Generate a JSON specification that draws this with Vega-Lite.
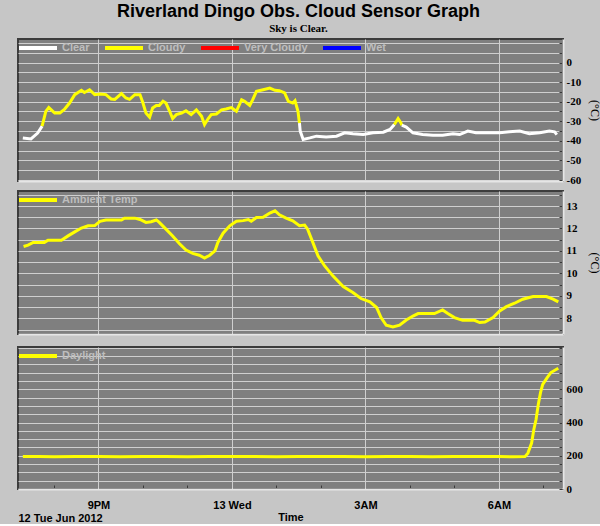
{
  "$schema": "https://vega.github.io/schema/vega-lite/v6.json",
  "background": "#c6c6c6",
  "padding": {"left": 15, "top": 2, "right": 0, "bottom": 0},
  "title": {
    "text": "Riverland Dingo Obs. Cloud Sensor Graph",
    "subtitle": "Sky is Clear.",
    "anchor": "middle",
    "dx": -10,
    "font": "Liberation Sans",
    "fontSize": 18,
    "fontWeight": "bold",
    "color": "#000000",
    "subtitleFont": "Liberation Serif",
    "subtitleFontSize": 11,
    "subtitleFontWeight": "bold",
    "subtitleColor": "#000000",
    "subtitlePadding": 2,
    "offset": 2
  },
  "config": {
    "view": {"fill": "#7f7f7f", "stroke": "#3c3c3c", "strokeWidth": 2},
    "axis": {
      "labelFont": "Liberation Serif",
      "labelFontWeight": "bold",
      "labelFontSize": 11,
      "labelColor": "#000000",
      "titleFont": "Liberation Serif",
      "titleFontWeight": "normal",
      "titleFontSize": 12,
      "titleColor": "#000000",
      "tickColor": "#3a3a3a",
      "domainColor": "#e6e6e6",
      "domainWidth": 2,
      "gridColor": "#cfcfcf",
      "gridWidth": 1
    },
    "legend": {
      "orient": "none",
      "legendX": 1,
      "legendY": 2,
      "direction": "horizontal",
      "title": null,
      "symbolType": "M-1.4,0H6.2",
      "symbolSize": 100,
      "symbolStrokeWidth": 4,
      "labelFont": "Liberation Sans",
      "labelFontWeight": "bold",
      "labelFontSize": 11,
      "labelColor": "#bdbdbd",
      "labelOffset": 29,
      "columnPadding": 7,
      "padding": 0
    }
  },
  "datasets": {
    "cloud": [
      {"t": "2012-06-12T19:18", "sky": -38.5, "cond": "Clear", "seg": 1},
      {"t": "2012-06-12T19:29", "sky": -39, "cond": "Clear", "seg": 1},
      {"t": "2012-06-12T19:38", "sky": -36, "cond": "Clear", "seg": 1},
      {"t": "2012-06-12T19:44", "sky": -32.5, "cond": "Clear", "seg": 1},
      {"t": "2012-06-12T19:44", "sky": -32.5, "cond": "Cloudy", "seg": 2},
      {"t": "2012-06-12T19:49", "sky": -25, "cond": "Cloudy", "seg": 2},
      {"t": "2012-06-12T19:53", "sky": -23, "cond": "Cloudy", "seg": 2},
      {"t": "2012-06-12T20:01", "sky": -25.8, "cond": "Cloudy", "seg": 2},
      {"t": "2012-06-12T20:08", "sky": -25.8, "cond": "Cloudy", "seg": 2},
      {"t": "2012-06-12T20:14", "sky": -24, "cond": "Cloudy", "seg": 2},
      {"t": "2012-06-12T20:21", "sky": -20.7, "cond": "Cloudy", "seg": 2},
      {"t": "2012-06-12T20:28", "sky": -16.4, "cond": "Cloudy", "seg": 2},
      {"t": "2012-06-12T20:37", "sky": -14.2, "cond": "Cloudy", "seg": 2},
      {"t": "2012-06-12T20:41", "sky": -15.3, "cond": "Cloudy", "seg": 2},
      {"t": "2012-06-12T20:48", "sky": -13.9, "cond": "Cloudy", "seg": 2},
      {"t": "2012-06-12T20:55", "sky": -16.4, "cond": "Cloudy", "seg": 2},
      {"t": "2012-06-12T21:02", "sky": -16.1, "cond": "Cloudy", "seg": 2},
      {"t": "2012-06-12T21:10", "sky": -16.4, "cond": "Cloudy", "seg": 2},
      {"t": "2012-06-12T21:17", "sky": -18.6, "cond": "Cloudy", "seg": 2},
      {"t": "2012-06-12T21:22", "sky": -18.8, "cond": "Cloudy", "seg": 2},
      {"t": "2012-06-12T21:31", "sky": -15.9, "cond": "Cloudy", "seg": 2},
      {"t": "2012-06-12T21:37", "sky": -18.1, "cond": "Cloudy", "seg": 2},
      {"t": "2012-06-12T21:42", "sky": -18.8, "cond": "Cloudy", "seg": 2},
      {"t": "2012-06-12T21:49", "sky": -16.4, "cond": "Cloudy", "seg": 2},
      {"t": "2012-06-12T21:56", "sky": -16.4, "cond": "Cloudy", "seg": 2},
      {"t": "2012-06-12T22:00", "sky": -20.7, "cond": "Cloudy", "seg": 2},
      {"t": "2012-06-12T22:04", "sky": -25.8, "cond": "Cloudy", "seg": 2},
      {"t": "2012-06-12T22:09", "sky": -28, "cond": "Cloudy", "seg": 2},
      {"t": "2012-06-12T22:13", "sky": -23.2, "cond": "Cloudy", "seg": 2},
      {"t": "2012-06-12T22:18", "sky": -21.9, "cond": "Cloudy", "seg": 2},
      {"t": "2012-06-12T22:22", "sky": -21.9, "cond": "Cloudy", "seg": 2},
      {"t": "2012-06-12T22:27", "sky": -19.8, "cond": "Cloudy", "seg": 2},
      {"t": "2012-06-12T22:31", "sky": -20.7, "cond": "Cloudy", "seg": 2},
      {"t": "2012-06-12T22:36", "sky": -24.9, "cond": "Cloudy", "seg": 2},
      {"t": "2012-06-12T22:40", "sky": -28.6, "cond": "Cloudy", "seg": 2},
      {"t": "2012-06-12T22:45", "sky": -26.6, "cond": "Cloudy", "seg": 2},
      {"t": "2012-06-12T22:52", "sky": -25.8, "cond": "Cloudy", "seg": 2},
      {"t": "2012-06-12T22:58", "sky": -24.6, "cond": "Cloudy", "seg": 2},
      {"t": "2012-06-12T23:05", "sky": -26.6, "cond": "Cloudy", "seg": 2},
      {"t": "2012-06-12T23:12", "sky": -24.2, "cond": "Cloudy", "seg": 2},
      {"t": "2012-06-12T23:19", "sky": -27.5, "cond": "Cloudy", "seg": 2},
      {"t": "2012-06-12T23:23", "sky": -31.7, "cond": "Cloudy", "seg": 2},
      {"t": "2012-06-12T23:28", "sky": -28.6, "cond": "Cloudy", "seg": 2},
      {"t": "2012-06-12T23:32", "sky": -26.6, "cond": "Cloudy", "seg": 2},
      {"t": "2012-06-12T23:39", "sky": -26.3, "cond": "Cloudy", "seg": 2},
      {"t": "2012-06-12T23:46", "sky": -24.2, "cond": "Cloudy", "seg": 2},
      {"t": "2012-06-12T23:52", "sky": -23.7, "cond": "Cloudy", "seg": 2},
      {"t": "2012-06-12T23:59", "sky": -23, "cond": "Cloudy", "seg": 2},
      {"t": "2012-06-13T00:06", "sky": -24.9, "cond": "Cloudy", "seg": 2},
      {"t": "2012-06-13T00:13", "sky": -19, "cond": "Cloudy", "seg": 2},
      {"t": "2012-06-13T00:17", "sky": -19.8, "cond": "Cloudy", "seg": 2},
      {"t": "2012-06-13T00:24", "sky": -21.9, "cond": "Cloudy", "seg": 2},
      {"t": "2012-06-13T00:28", "sky": -19, "cond": "Cloudy", "seg": 2},
      {"t": "2012-06-13T00:33", "sky": -14.7, "cond": "Cloudy", "seg": 2},
      {"t": "2012-06-13T00:42", "sky": -13.9, "cond": "Cloudy", "seg": 2},
      {"t": "2012-06-13T00:51", "sky": -13.1, "cond": "Cloudy", "seg": 2},
      {"t": "2012-06-13T00:58", "sky": -14.2, "cond": "Cloudy", "seg": 2},
      {"t": "2012-06-13T01:04", "sky": -14.4, "cond": "Cloudy", "seg": 2},
      {"t": "2012-06-13T01:11", "sky": -15.5, "cond": "Cloudy", "seg": 2},
      {"t": "2012-06-13T01:16", "sky": -19.8, "cond": "Cloudy", "seg": 2},
      {"t": "2012-06-13T01:22", "sky": -20.7, "cond": "Cloudy", "seg": 2},
      {"t": "2012-06-13T01:25", "sky": -19.5, "cond": "Cloudy", "seg": 2},
      {"t": "2012-06-13T01:29", "sky": -24.9, "cond": "Cloudy", "seg": 2},
      {"t": "2012-06-13T01:31", "sky": -31, "cond": "Cloudy", "seg": 2},
      {"t": "2012-06-13T01:31", "sky": -31, "cond": "Clear", "seg": 3},
      {"t": "2012-06-13T01:32", "sky": -35, "cond": "Clear", "seg": 3},
      {"t": "2012-06-13T01:36", "sky": -39.3, "cond": "Clear", "seg": 3},
      {"t": "2012-06-13T01:45", "sky": -38.5, "cond": "Clear", "seg": 3},
      {"t": "2012-06-13T01:54", "sky": -37.6, "cond": "Clear", "seg": 3},
      {"t": "2012-06-13T02:07", "sky": -38, "cond": "Clear", "seg": 3},
      {"t": "2012-06-13T02:21", "sky": -37.6, "cond": "Clear", "seg": 3},
      {"t": "2012-06-13T02:32", "sky": -35.9, "cond": "Clear", "seg": 3},
      {"t": "2012-06-13T02:43", "sky": -36.4, "cond": "Clear", "seg": 3},
      {"t": "2012-06-13T02:57", "sky": -36.8, "cond": "Clear", "seg": 3},
      {"t": "2012-06-13T03:10", "sky": -35.9, "cond": "Clear", "seg": 3},
      {"t": "2012-06-13T03:24", "sky": -35.6, "cond": "Clear", "seg": 3},
      {"t": "2012-06-13T03:33", "sky": -34.2, "cond": "Clear", "seg": 3},
      {"t": "2012-06-13T03:39", "sky": -31.7, "cond": "Clear", "seg": 3},
      {"t": "2012-06-13T03:39", "sky": -31.7, "cond": "Cloudy", "seg": 4},
      {"t": "2012-06-13T03:44", "sky": -28.6, "cond": "Cloudy", "seg": 4},
      {"t": "2012-06-13T03:48", "sky": -31, "cond": "Cloudy", "seg": 4},
      {"t": "2012-06-13T03:49", "sky": -32, "cond": "Cloudy", "seg": 4},
      {"t": "2012-06-13T03:49", "sky": -32, "cond": "Clear", "seg": 5},
      {"t": "2012-06-13T03:55", "sky": -33, "cond": "Clear", "seg": 5},
      {"t": "2012-06-13T04:04", "sky": -35.9, "cond": "Clear", "seg": 5},
      {"t": "2012-06-13T04:17", "sky": -36.8, "cond": "Clear", "seg": 5},
      {"t": "2012-06-13T04:31", "sky": -37.1, "cond": "Clear", "seg": 5},
      {"t": "2012-06-13T04:44", "sky": -37.1, "cond": "Clear", "seg": 5},
      {"t": "2012-06-13T04:58", "sky": -36.4, "cond": "Clear", "seg": 5},
      {"t": "2012-06-13T05:07", "sky": -36.8, "cond": "Clear", "seg": 5},
      {"t": "2012-06-13T05:18", "sky": -35, "cond": "Clear", "seg": 5},
      {"t": "2012-06-13T05:29", "sky": -35.9, "cond": "Clear", "seg": 5},
      {"t": "2012-06-13T05:47", "sky": -35.9, "cond": "Clear", "seg": 5},
      {"t": "2012-06-13T06:01", "sky": -35.9, "cond": "Clear", "seg": 5},
      {"t": "2012-06-13T06:14", "sky": -35.4, "cond": "Clear", "seg": 5},
      {"t": "2012-06-13T06:28", "sky": -35, "cond": "Clear", "seg": 5},
      {"t": "2012-06-13T06:41", "sky": -36.4, "cond": "Clear", "seg": 5},
      {"t": "2012-06-13T06:55", "sky": -35.9, "cond": "Clear", "seg": 5},
      {"t": "2012-06-13T07:08", "sky": -35, "cond": "Clear", "seg": 5},
      {"t": "2012-06-13T07:15", "sky": -35.4, "cond": "Clear", "seg": 5},
      {"t": "2012-06-13T07:18", "sky": -36.8, "cond": "Clear", "seg": 5}
    ],
    "ambient": [
      {"t": "2012-06-12T19:19", "temp": 11.2},
      {"t": "2012-06-12T19:25", "temp": 11.26},
      {"t": "2012-06-12T19:32", "temp": 11.38},
      {"t": "2012-06-12T19:47", "temp": 11.38},
      {"t": "2012-06-12T19:52", "temp": 11.48},
      {"t": "2012-06-12T20:10", "temp": 11.48},
      {"t": "2012-06-12T20:19", "temp": 11.67},
      {"t": "2012-06-12T20:28", "temp": 11.85},
      {"t": "2012-06-12T20:37", "temp": 12.02},
      {"t": "2012-06-12T20:46", "temp": 12.12},
      {"t": "2012-06-12T20:55", "temp": 12.13},
      {"t": "2012-06-12T21:02", "temp": 12.32},
      {"t": "2012-06-12T21:10", "temp": 12.38},
      {"t": "2012-06-12T21:31", "temp": 12.38},
      {"t": "2012-06-12T21:35", "temp": 12.46},
      {"t": "2012-06-12T21:49", "temp": 12.46},
      {"t": "2012-06-12T21:56", "temp": 12.4},
      {"t": "2012-06-12T22:04", "temp": 12.27},
      {"t": "2012-06-12T22:11", "temp": 12.3},
      {"t": "2012-06-12T22:18", "temp": 12.38},
      {"t": "2012-06-12T22:22", "temp": 12.27},
      {"t": "2012-06-12T22:31", "temp": 11.97},
      {"t": "2012-06-12T22:40", "temp": 11.67},
      {"t": "2012-06-12T22:49", "temp": 11.33},
      {"t": "2012-06-12T22:58", "temp": 11.04},
      {"t": "2012-06-12T23:07", "temp": 10.89},
      {"t": "2012-06-12T23:16", "temp": 10.81},
      {"t": "2012-06-12T23:23", "temp": 10.68},
      {"t": "2012-06-12T23:30", "temp": 10.81},
      {"t": "2012-06-12T23:37", "temp": 11.0},
      {"t": "2012-06-12T23:41", "temp": 11.38},
      {"t": "2012-06-12T23:48", "temp": 11.79},
      {"t": "2012-06-12T23:57", "temp": 12.12},
      {"t": "2012-06-13T00:06", "temp": 12.32},
      {"t": "2012-06-13T00:15", "temp": 12.35},
      {"t": "2012-06-13T00:22", "temp": 12.4},
      {"t": "2012-06-13T00:26", "temp": 12.32},
      {"t": "2012-06-13T00:33", "temp": 12.49},
      {"t": "2012-06-13T00:42", "temp": 12.5},
      {"t": "2012-06-13T00:51", "temp": 12.69},
      {"t": "2012-06-13T00:58", "temp": 12.79},
      {"t": "2012-06-13T01:04", "temp": 12.61},
      {"t": "2012-06-13T01:13", "temp": 12.46},
      {"t": "2012-06-13T01:22", "temp": 12.34},
      {"t": "2012-06-13T01:31", "temp": 12.12},
      {"t": "2012-06-13T01:38", "temp": 12.15},
      {"t": "2012-06-13T01:42", "temp": 11.97},
      {"t": "2012-06-13T01:49", "temp": 11.38},
      {"t": "2012-06-13T01:56", "temp": 10.78},
      {"t": "2012-06-13T02:05", "temp": 10.33},
      {"t": "2012-06-13T02:16", "temp": 9.89},
      {"t": "2012-06-13T02:30", "temp": 9.41},
      {"t": "2012-06-13T02:43", "temp": 9.15},
      {"t": "2012-06-13T02:54", "temp": 8.88},
      {"t": "2012-06-13T03:06", "temp": 8.73},
      {"t": "2012-06-13T03:15", "temp": 8.48},
      {"t": "2012-06-13T03:21", "temp": 8.03},
      {"t": "2012-06-13T03:28", "temp": 7.69},
      {"t": "2012-06-13T03:37", "temp": 7.61},
      {"t": "2012-06-13T03:46", "temp": 7.69},
      {"t": "2012-06-13T03:55", "temp": 7.92},
      {"t": "2012-06-13T04:04", "temp": 8.1},
      {"t": "2012-06-13T04:11", "temp": 8.21},
      {"t": "2012-06-13T04:33", "temp": 8.21},
      {"t": "2012-06-13T04:44", "temp": 8.37},
      {"t": "2012-06-13T04:51", "temp": 8.21},
      {"t": "2012-06-13T05:00", "temp": 8.03},
      {"t": "2012-06-13T05:11", "temp": 7.91},
      {"t": "2012-06-13T05:27", "temp": 7.91},
      {"t": "2012-06-13T05:34", "temp": 7.81},
      {"t": "2012-06-13T05:41", "temp": 7.83},
      {"t": "2012-06-13T05:52", "temp": 8.03},
      {"t": "2012-06-13T06:01", "temp": 8.33},
      {"t": "2012-06-13T06:10", "temp": 8.52},
      {"t": "2012-06-13T06:21", "temp": 8.67},
      {"t": "2012-06-13T06:32", "temp": 8.85},
      {"t": "2012-06-13T06:46", "temp": 8.97},
      {"t": "2012-06-13T07:04", "temp": 8.97},
      {"t": "2012-06-13T07:13", "temp": 8.85},
      {"t": "2012-06-13T07:20", "temp": 8.73}
    ],
    "daylight": [
      {"t": "2012-06-12T19:18", "light": 195},
      {"t": "2012-06-12T19:40", "light": 196},
      {"t": "2012-06-12T20:00", "light": 194},
      {"t": "2012-06-12T20:30", "light": 196},
      {"t": "2012-06-12T21:00", "light": 195},
      {"t": "2012-06-12T21:30", "light": 194},
      {"t": "2012-06-12T22:00", "light": 196},
      {"t": "2012-06-12T22:30", "light": 195},
      {"t": "2012-06-12T23:00", "light": 194},
      {"t": "2012-06-12T23:30", "light": 196},
      {"t": "2012-06-13T00:00", "light": 195},
      {"t": "2012-06-13T00:30", "light": 196},
      {"t": "2012-06-13T01:00", "light": 194},
      {"t": "2012-06-13T01:30", "light": 195},
      {"t": "2012-06-13T02:00", "light": 196},
      {"t": "2012-06-13T02:30", "light": 195},
      {"t": "2012-06-13T03:00", "light": 194},
      {"t": "2012-06-13T03:30", "light": 195},
      {"t": "2012-06-13T04:00", "light": 196},
      {"t": "2012-06-13T04:30", "light": 194},
      {"t": "2012-06-13T05:00", "light": 195},
      {"t": "2012-06-13T05:30", "light": 196},
      {"t": "2012-06-13T06:00", "light": 195},
      {"t": "2012-06-13T06:20", "light": 194},
      {"t": "2012-06-13T06:35", "light": 195},
      {"t": "2012-06-13T06:39", "light": 216},
      {"t": "2012-06-13T06:44", "light": 277},
      {"t": "2012-06-13T06:47", "light": 358},
      {"t": "2012-06-13T06:50", "light": 418},
      {"t": "2012-06-13T06:53", "light": 509},
      {"t": "2012-06-13T06:56", "light": 580},
      {"t": "2012-06-13T06:59", "light": 630},
      {"t": "2012-06-13T07:05", "light": 671},
      {"t": "2012-06-13T07:10", "light": 701},
      {"t": "2012-06-13T07:20", "light": 727}
    ]
  },
  "spacing": 4,
  "vconcat": [
    {
      "spacing": 0,
      "vconcat": [
        {
          "width": 545,
          "height": 142,
          "data": {"name": "cloud"},
          "mark": {"type": "line", "strokeWidth": 3},
          "encoding": {
            "x": {
              "field": "t",
              "type": "temporal",
              "scale": {"domain": [{"year": 2012, "month": 6, "date": 12, "hours": 19, "minutes": 11, "seconds": 30}, {"year": 2012, "month": 6, "date": 13, "hours": 7, "minutes": 26, "seconds": 20}]},
              "axis": {
                "values": [{"year": 2012, "month": 6, "date": 12, "hours": 21}, {"year": 2012, "month": 6, "date": 13, "hours": 0}, {"year": 2012, "month": 6, "date": 13, "hours": 3}, {"year": 2012, "month": 6, "date": 13, "hours": 6}],
                "labels": false,
                "ticks": false,
                "title": null,
                "grid": true
              }
            },
            "y": {
              "field": "sky",
              "type": "quantitative",
              "scale": {"domain": [-60.5, 12], "nice": false, "zero": false},
              "axis": {
                "orient": "right",
                "values": [-60, -55, -50, -45, -40, -35, -30, -25, -20, -15, -10, -5, 0, 5, 10],
                "labelExpr": "datum.value % 10 == 0 && datum.value <= 0 ? '' + datum.value : ''",
                "labelOverlap": false,
                "labelPadding": 7,
                "tickSize": -4,
                "title": "(°C)",
                "titlePadding": 3,
                "minExtent": 21,
                "maxExtent": 21,
                "grid": true,
                "encode": {
                  "grid": {
                    "update": {
                      "stroke": {"signal": "datum.value == -10 ? '#ff0000' : datum.value == -30 ? '#ffff00' : (datum.value == 0 || datum.value == -20 || datum.value == -40 || datum.value == -50) ? '#cfcfcf' : 'transparent'"},
                      "strokeDash": {"signal": "(datum.value == -10 || datum.value == -30) ? [5, 3] : []"}
                    }
                  }
                }
              }
            },
            "color": {
              "field": "cond",
              "type": "nominal",
              "scale": {"domain": ["Clear", "Cloudy", "Very Cloudy", "Wet"], "range": ["#ffffff", "#ffff00", "#ff0000", "#0000ff"]},
              "legend": {}
            },
            "detail": {"field": "seg", "type": "nominal"}
          }
        },
        {
          "width": 545,
          "height": 143,
          "data": {"name": "ambient"},
          "mark": {"type": "line", "strokeWidth": 3},
          "encoding": {
            "x": {
              "field": "t",
              "type": "temporal",
              "scale": {"domain": [{"year": 2012, "month": 6, "date": 12, "hours": 19, "minutes": 11, "seconds": 30}, {"year": 2012, "month": 6, "date": 13, "hours": 7, "minutes": 26, "seconds": 20}]},
              "axis": {
                "values": [{"year": 2012, "month": 6, "date": 12, "hours": 21}, {"year": 2012, "month": 6, "date": 13, "hours": 0}, {"year": 2012, "month": 6, "date": 13, "hours": 3}, {"year": 2012, "month": 6, "date": 13, "hours": 6}],
                "labels": false,
                "ticks": false,
                "title": null,
                "grid": true
              }
            },
            "y": {
              "field": "temp",
              "type": "quantitative",
              "scale": {"domain": [7.3, 13.67], "nice": false, "zero": false},
              "axis": {
                "orient": "right",
                "values": [7.5, 8, 8.5, 9, 9.5, 10, 10.5, 11, 11.5, 12, 12.5, 13, 13.5],
                "labelExpr": "datum.value % 1 == 0 ? '' + datum.value : ''",
                "labelOverlap": false,
                "labelPadding": 7,
                "tickSize": -4,
                "title": "(°C)",
                "titlePadding": 3,
                "minExtent": 21,
                "maxExtent": 21,
                "grid": true,
                "encode": {
                  "grid": {
                    "update": {
                      "stroke": {"signal": "datum.value % 1 == 0 ? '#cfcfcf' : 'transparent'"}
                    }
                  }
                }
              }
            },
            "color": {
              "datum": "Ambient Temp",
              "type": "nominal",
              "scale": {"range": ["#ffff00"]},
              "legend": {}
            }
          }
        }
      ],
      "resolve": {"scale": {"color": "independent"}}
    },
    {
      "width": 545,
      "height": 142,
      "data": {"name": "daylight"},
      "mark": {"type": "line", "strokeWidth": 3},
      "encoding": {
        "x": {
          "field": "t",
          "type": "temporal",
          "scale": {"domain": [{"year": 2012, "month": 6, "date": 12, "hours": 19, "minutes": 11, "seconds": 30}, {"year": 2012, "month": 6, "date": 13, "hours": 7, "minutes": 26, "seconds": 20}]},
          "axis": {
            "values": [
              {"year": 2012, "month": 6, "date": 12, "hours": 19, "minutes": 11, "seconds": 30},
              {"year": 2012, "month": 6, "date": 12, "hours": 20},
              {"year": 2012, "month": 6, "date": 12, "hours": 21},
              {"year": 2012, "month": 6, "date": 12, "hours": 22},
              {"year": 2012, "month": 6, "date": 12, "hours": 23},
              {"year": 2012, "month": 6, "date": 13, "hours": 0},
              {"year": 2012, "month": 6, "date": 13, "hours": 1},
              {"year": 2012, "month": 6, "date": 13, "hours": 2},
              {"year": 2012, "month": 6, "date": 13, "hours": 3},
              {"year": 2012, "month": 6, "date": 13, "hours": 4},
              {"year": 2012, "month": 6, "date": 13, "hours": 5},
              {"year": 2012, "month": 6, "date": 13, "hours": 6},
              {"year": 2012, "month": 6, "date": 13, "hours": 7}
            ],
            "labelExpr": "hours(datum.value) == 19 ? ['', '12 Tue Jun 2012'] : hours(datum.value) == 0 ? '13 Wed' : hours(datum.value) % 3 == 0 ? (hours(datum.value) > 12 ? (hours(datum.value) - 12) + 'PM' : hours(datum.value) + 'AM') : ''",
            "labelFont": "Liberation Sans",
            "labelFontSize": 11,
            "labelFontWeight": "bold",
            "labelLineHeight": 13,
            "labelAlign": {"condition": {"test": "hours(datum.value) == 19", "value": "left"}, "value": "center"},
            "labelFlush": false,
            "labelOverlap": false,
            "labelPadding": 14,
            "tickSize": -4,
            "tickOpacity": {"condition": {"test": "hours(datum.value) == 19 || hours(datum.value) % 3 == 0", "value": 0}, "value": 1},
            "grid": true,
            "gridOpacity": {"condition": {"test": "hours(datum.value) % 3 == 0", "value": 1}, "value": 0},
            "title": "Time",
            "titleFont": "Liberation Sans",
            "titleFontSize": 11,
            "titleFontWeight": "bold",
            "titleBaseline": "top",
            "titleY": 22
          }
        },
        "y": {
          "field": "light",
          "type": "quantitative",
          "scale": {"domain": [0, 855], "nice": false, "zero": false},
          "axis": {
            "orient": "right",
            "values": [0, 50, 100, 150, 200, 250, 300, 350, 400, 450, 500, 550, 600, 650, 700, 750, 800, 850],
            "labelExpr": "datum.value % 200 == 0 && datum.value <= 600 ? '' + datum.value : ''",
            "labelOverlap": false,
            "labelPadding": 7,
            "tickSize": -4,
            "title": null,
            "minExtent": 21,
            "maxExtent": 21,
            "grid": true,
            "encode": {
              "grid": {
                "update": {
                  "stroke": {"signal": "datum.value % 200 == 0 && datum.value > 0 ? '#cfcfcf' : 'transparent'"}
                }
              }
            }
          }
        },
        "color": {
          "datum": "Daylight",
          "type": "nominal",
          "scale": {"range": ["#ffff00"]},
          "legend": {}
        }
      }
    }
  ],
  "resolve": {"scale": {"color": "independent"}}
}
